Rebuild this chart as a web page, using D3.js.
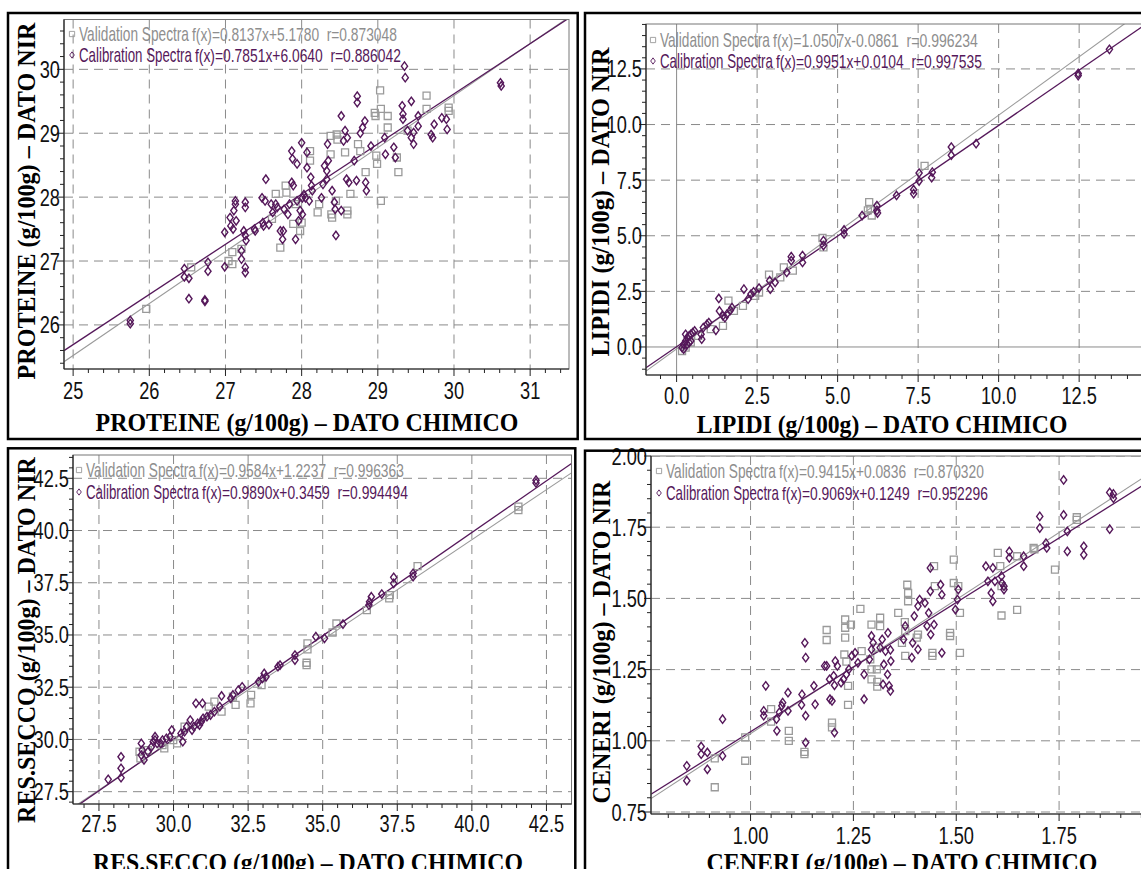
<!DOCTYPE html>
<html>
<head>
<meta charset="utf-8">
<script src="https://cdn.jsdelivr.net/npm/d3@7"></script>
<style>
  body { margin: 0; background: #fff; }
  svg { display: block; }
  .num { font-family: "Liberation Sans", Arial, sans-serif; }
  .ttl { font-family: "Liberation Serif", "Times New Roman", serif; font-weight: bold; }
</style>
</head>
<body>
<svg id="chart" width="1141" height="869"></svg>
<script>
/* ---------- data: PROTEINE ---------- */
const proteineCal = [
  [25.75,26.07],[25.75,26.02],[26.46,26.88],[26.46,26.75],[26.52,26.73],[26.52,26.41],[26.73,26.39],[26.73,26.37],
  [26.77,26.98],[26.77,26.84],[26.99,27.45],[26.99,26.91],[27.06,27.68],[27.07,27.55],[27.10,27.50],[27.11,27.79],
  [27.13,27.94],[27.13,27.89],[27.14,27.63],[27.21,27.16],[27.21,27.03],[27.24,27.47],[27.26,27.92],[27.26,27.84],
  [27.26,27.40],[27.26,26.90],[27.26,26.82],[27.27,27.32],[27.38,27.50],[27.39,27.47],[27.48,27.99],[27.49,27.60],
  [27.50,27.55],[27.52,27.94],[27.53,28.28],[27.57,27.57],[27.60,27.89],[27.62,27.76],[27.66,27.89],[27.68,27.84],
  [27.72,27.47],[27.75,27.34],[27.76,27.47],[27.77,27.81],[27.82,27.73],[27.84,27.89],[27.87,28.23],[27.87,28.72],
  [27.88,28.60],[27.89,28.18],[27.92,27.34],[27.94,28.52],[27.94,27.94],[27.96,27.63],[27.98,27.79],[28.00,28.85],
  [28.01,27.73],[28.01,27.99],[28.03,28.04],[28.05,27.99],[28.07,28.70],[28.07,28.46],[28.10,27.94],[28.12,28.31],
  [28.13,28.18],[28.14,28.10],[28.26,27.99],[28.28,28.20],[28.30,28.49],[28.33,28.41],[28.34,28.83],[28.35,28.57],
  [28.33,28.28],[28.40,28.10],[28.43,27.92],[28.44,27.81],[28.45,27.40],[28.52,29.27],[28.55,28.88],[28.57,29.04],
  [28.60,28.93],[28.59,28.28],[28.62,28.23],[28.52,27.79],[28.69,28.57],[28.72,28.26],[28.73,29.58],[28.73,29.48],
  [28.77,29.00],[28.80,29.09],[28.83,29.19],[28.84,28.23],[28.85,28.10],[28.91,28.80],[29.09,28.93],[29.10,28.67],
  [29.21,28.78],[29.23,28.62],[29.32,29.43],[29.33,29.30],[29.33,29.22],[29.35,30.05],[29.36,29.87],[29.39,29.04],
  [29.44,29.50],[29.44,28.93],[29.47,28.83],[29.47,29.01],[29.53,29.11],[29.53,29.27],[29.70,28.98],[29.72,28.93],
  [29.74,29.14],[29.84,29.24],[29.90,29.22],[29.91,29.06],[30.61,29.79],[30.62,29.74]
];
const proteineVal = [
  [25.96,26.25],[26.55,26.90],[27.04,27.00],[27.09,27.14],[27.09,26.95],[27.21,27.19],[27.61,27.66],[27.66,28.05],
  [27.72,27.21],[27.79,28.18],[27.80,28.07],[27.89,27.58],[27.92,27.89],[27.98,27.47],[28.00,27.60],[28.11,28.72],
  [28.11,28.57],[28.21,27.76],[28.23,27.89],[28.38,28.96],[28.38,28.67],[28.39,27.73],[28.40,27.68],[28.45,27.94],
  [28.46,28.98],[28.47,28.90],[28.57,28.70],[28.60,27.79],[28.60,27.73],[28.64,28.05],[28.74,28.83],[28.77,28.72],
  [28.84,28.39],[28.96,29.32],[28.97,29.27],[28.98,28.65],[28.99,28.52],[29.03,29.67],[29.04,29.38],[29.04,27.94],
  [29.13,29.27],[29.13,29.09],[29.25,28.62],[29.27,28.39],[29.39,29.04],[29.64,29.59],[29.64,29.38],[29.93,29.40],
  [29.93,29.35]
];
const proteineCalFit = [0.7851, 6.0640, 0.886042];
const proteineValFit = [0.8137, 5.1780, 0.873048];
const proteineXTicks = [25, 26, 27, 28, 29, 30, 31];
const proteineYTicks = [26, 27, 28, 29, 30];

/* ---------- data: LIPIDI ---------- */
const lipidiCal = [
  [13.44,13.38],[12.47,12.20],[12.47,12.30],[9.30,9.14],[8.53,8.99],[8.53,8.62],[7.94,7.86],[7.92,7.61],
  [7.53,7.82],[7.53,7.46],[7.36,7.07],[7.36,6.89],[6.83,6.81],[6.22,6.36],[6.22,6.14],[6.24,6.02],
  [5.76,5.91],[5.20,5.26],[5.20,5.08],[4.56,4.78],[4.56,4.56],[3.91,4.11],[3.91,3.80],[3.56,4.06],
  [3.56,3.88],[3.42,3.35],[3.06,2.90],[2.89,2.98],[2.91,2.60],[2.56,2.65],[2.39,2.48],[2.31,2.38],
  [2.22,2.15],[2.09,2.60],[1.31,2.18],[1.33,1.62],[1.44,1.40],[1.56,1.47],[1.67,1.65],[1.72,1.77],
  [1.50,1.32],[1.22,0.75],[1.00,1.10],[0.94,1.02],[0.83,0.87],[0.78,0.35],[0.76,0.57],[0.22,0.12],
  [0.28,0.27],[0.33,0.42],[0.39,0.50],[0.44,0.57],[0.50,0.65],[0.56,0.72],[0.33,0.12],[0.17,-0.03],
  [0.22,-0.10],[0.44,0.27],[0.28,0.57],[0.39,0.20]
];
const lipidiVal = [
  [7.70,8.14],[5.98,6.51],[6.02,6.21],[6.06,5.91],[5.94,6.14],[4.56,4.48],[4.53,4.90],[3.61,3.43],
  [3.33,3.58],[3.22,3.13],[2.87,3.25],[2.56,2.45],[2.44,2.30],[2.06,1.85],[1.78,1.62],[1.61,2.08],
  [1.44,0.95],[1.06,0.80],[0.67,0.50],[0.44,0.20],[0.17,-0.18],[0.28,-0.03]
];
const lipidiCalFit = [0.9951, 0.0104, 0.997535];
const lipidiValFit = [1.0507, -0.0861, 0.996234];
const lipidiXTicks = [0, 2.5, 5, 7.5, 10, 12.5];
const lipidiYTicks = [0, 2.5, 5, 7.5, 10, 12.5];

/* ---------- data: RES.SECCO ---------- */
const seccoCal = [
  [42.15,42.41],[42.15,42.28],[38.03,37.95],[38.03,37.79],[37.38,37.76],[37.38,37.47],[36.98,36.96],[36.63,36.83],
  [36.57,36.59],[36.55,36.43],[35.68,35.52],[35.06,34.84],[34.77,34.92],[34.07,34.04],[34.07,33.80],[33.57,33.56],
  [33.50,33.48],[33.10,33.00],[32.98,32.92],[32.85,32.76],[33.04,33.16],[32.30,32.52],[32.17,32.36],[31.99,32.13],
  [31.92,31.97],[31.61,32.08],[31.55,31.57],[31.37,31.33],[31.24,31.17],[31.12,31.09],[30.99,31.01],[30.93,30.85],
  [30.87,30.69],[30.81,30.77],[30.68,30.61],[30.62,30.45],[30.56,30.93],[30.97,31.73],[30.75,31.73],[30.44,30.61],
  [30.37,30.37],[30.25,30.29],[30.31,29.89],[29.94,30.45],[29.88,30.13],[29.76,30.05],[29.63,29.97],[29.57,29.81],
  [29.45,29.81],[29.38,29.97],[29.32,29.89],[29.38,30.13],[29.26,29.65],[29.14,29.41],[28.95,29.49],[29.01,29.02],
  [28.92,29.81],[28.92,29.25],[28.24,29.17],[28.24,28.17],[28.24,28.62],[27.81,28.09]
];
const seccoVal = [
  [41.56,41.14],[41.56,40.98],[38.18,38.30],[37.23,36.75],[37.25,36.91],[36.48,36.19],[35.46,35.55],[35.33,35.12],
  [34.49,34.60],[34.49,34.31],[34.46,33.67],[34.46,33.56],[32.95,32.60],[32.60,32.13],[32.58,31.73],[32.08,31.65],
  [31.99,32.05],[31.61,31.33],[31.37,31.81],[31.18,31.57],[30.37,30.61],[30.12,29.81],[29.99,29.97],[29.69,29.57],
  [29.63,29.73],[29.14,29.49],[28.89,29.09],[28.86,29.41]
];
const seccoCalFit = [0.9890, 0.3459, 0.994494];
const seccoValFit = [0.9584, 1.2237, 0.996363];
const seccoXTicks = [27.5, 30, 32.5, 35, 37.5, 40, 42.5];
const seccoYTicks = [27.5, 30, 32.5, 35, 37.5, 40, 42.5];

/* ---------- data: CENERI ---------- */
const ceneriCal = [
  [0.845,0.912],[0.845,0.860],[0.880,0.980],[0.880,0.953],[0.895,0.959],[0.895,0.900],[0.932,1.076],[0.932,0.947],
  [1.032,1.088],[1.032,1.105],[1.037,1.193],[1.063,1.076],[1.064,1.035],[1.070,1.100],[1.076,1.123],[1.078,1.134],
  [1.091,1.169],[1.091,1.105],[1.124,1.126],[1.125,1.163],[1.132,1.344],[1.134,1.292],[1.134,1.088],[1.134,0.994],
  [1.154,1.193],[1.157,1.128],[1.180,1.263],[1.185,1.263],[1.192,1.216],[1.193,1.146],[1.198,1.140],[1.202,1.228],
  [1.204,1.195],[1.206,1.280],[1.211,1.263],[1.204,1.029],[1.220,1.204],[1.226,1.216],[1.233,1.233],[1.239,1.251],
  [1.246,1.298],[1.254,1.309],[1.261,1.274],[1.276,1.146],[1.276,1.233],[1.289,1.286],[1.294,1.368],[1.294,1.321],
  [1.298,1.344],[1.315,1.327],[1.320,1.356],[1.322,1.198],[1.324,1.268],[1.328,1.315],[1.333,1.233],[1.334,1.379],
  [1.337,1.193],[1.340,1.175],[1.341,1.280],[1.340,1.319],[1.372,1.356],[1.376,1.403],[1.392,1.292],[1.394,1.344],
  [1.398,1.438],[1.407,1.321],[1.407,1.473],[1.411,1.496],[1.424,1.484],[1.429,1.403],[1.433,1.449],[1.437,1.525],
  [1.437,1.607],[1.438,1.373],[1.446,1.408],[1.462,1.548],[1.465,1.513],[1.465,1.309],[1.498,1.461],[1.503,1.496],
  [1.505,1.531],[1.572,1.613],[1.577,1.560],[1.585,1.519],[1.589,1.490],[1.589,1.607],[1.594,1.560],[1.610,1.578],
  [1.611,1.554],[1.616,1.543],[1.616,1.531],[1.629,1.665],[1.629,1.642],[1.664,1.648],[1.664,1.613],[1.703,1.788],
  [1.703,1.747],[1.718,1.694],[1.720,1.677],[1.761,1.916],[1.761,1.793],[1.770,1.735],[1.770,1.665],[1.810,1.683],
  [1.810,1.653],[1.873,1.872],[1.882,1.867],[1.882,1.852],[1.873,1.743]
];
const ceneriVal = [
  [0.913,0.837],[0.913,0.938],[0.987,0.930],[0.987,1.012],[1.050,1.111],[1.050,1.067],[1.093,1.035],[1.093,1.000],
  [1.131,0.961],[1.131,0.953],[1.185,1.389],[1.185,1.354],[1.198,1.064],[1.198,1.047],[1.230,1.426],[1.230,1.397],
  [1.230,1.362],[1.228,1.303],[1.233,1.278],[1.237,1.193],[1.237,1.126],[1.244,1.408],[1.267,1.463],[1.270,1.315],
  [1.294,1.408],[1.291,1.286],[1.294,1.251],[1.294,1.216],[1.305,1.327],[1.307,1.251],[1.308,1.207],[1.308,1.190],
  [1.315,1.432],[1.315,1.403],[1.359,1.449],[1.375,1.417],[1.376,1.385],[1.376,1.298],[1.368,1.344],[1.381,1.548],
  [1.383,1.519],[1.383,1.490],[1.404,1.362],[1.407,1.373],[1.442,1.309],[1.442,1.298],[1.448,1.543],[1.446,1.613],
  [1.485,1.368],[1.485,1.379],[1.494,1.636],[1.494,1.554],[1.509,1.449],[1.509,1.309],[1.505,1.543],[1.601,1.660],
  [1.607,1.613],[1.610,1.543],[1.610,1.440],[1.648,1.648],[1.648,1.460],[1.688,1.677],[1.690,1.672],[1.740,1.601],
  [1.793,1.785],[1.793,1.776]
];
const ceneriCalFit = [0.9069, 0.1249, 0.952296];
const ceneriValFit = [0.9415, 0.0836, 0.870320];
const ceneriXTicks = [1.00, 1.25, 1.50, 1.75];
const ceneriYTicks = [0.75, 1.00, 1.25, 1.50, 1.75, 2.00];

/* ---------- colours ---------- */
const CAL = '#55185a';
const VAL = '#9a9a9a';
const VAL_TXT = '#8e8e8e';
const GRID = '#8a8a8a';

/* ---------- panel layout ---------- */
const panels = [
  {
    name: 'PROTEINE', cal: proteineCal, val: proteineVal, calFit: proteineCalFit, valFit: proteineValFit,
    xTicks: proteineXTicks, yTicks: proteineYTicks, fmt: d3.format('d'), minor: 0.2,
    frame: [8, 13, 577.7, 439], plot: { l: 64, t: 19.5, r: 569, b: 369 },
    xDomain: [24.88, 31.51], yDomain: [25.31, 30.78],
    xLabelY: 399, xTitle: [307, 431, 423], yTitle: [35, 201, 357], legend: [72, 41, 62]
  },
  {
    name: 'LIPIDI', cal: lipidiCal, val: lipidiVal, calFit: lipidiCalFit, valFit: lipidiValFit,
    xTicks: lipidiXTicks, yTicks: lipidiYTicks, fmt: d3.format('.1f'), minor: 0.5, solidZero: true,
    frame: [585, 13, 1200, 439], plot: { l: 646, t: 24, r: 1150, b: 375 },
    xDomain: [-0.95, 14.70], yDomain: [-1.26, 14.52],
    xLabelY: 404, xTitle: [882, 433, 371], yTitle: [609, 202, 309], legend: [653, 47, 68]
  },
  {
    name: 'RES.SECCO', cal: seccoCal, val: seccoVal, calFit: seccoCalFit, valFit: seccoValFit,
    xTicks: seccoXTicks, yTicks: seccoYTicks, fmt: d3.format('.1f'), minor: 0.5,
    frame: [8, 448.3, 575.3, 900], plot: { l: 73, t: 455, r: 571.5, b: 804 },
    xDomain: [26.63, 43.34], yDomain: [26.91, 43.615],
    xLabelY: 832, xTitle: [308, 871, 430], yTitle: [35, 640, 366], legend: [79, 477, 499]
  },
  {
    name: 'CENERI', cal: ceneriCal, val: ceneriVal, calFit: ceneriCalFit, valFit: ceneriValFit,
    xTicks: ceneriXTicks, yTicks: ceneriYTicks, fmt: d3.format('.2f'), minor: 0.05,
    frame: [585, 450.7, 1200, 900], plot: { l: 651, t: 456, r: 1150, b: 814 },
    xDomain: [0.758, 1.971], yDomain: [0.743, 2.0],
    xLabelY: 844, xTitle: [902, 871, 391], yTitle: [610, 642, 323], legend: [659, 478, 500]
  }
];

const svg = d3.select('#chart');
const defs = svg.append('defs');

const diamond = 'M0,-4.2L3.1,0L0,4.2L-3.1,0Z';
const square = 'M-3.5,-3.5H3.5V3.5H-3.5Z';
const TICK_SX = 0.76;

function fitText(f) {
  const b = f[1];
  return `f(x)=${f[0].toFixed(4)}x${b < 0 ? '-' : '+'}${Math.abs(b).toFixed(4)}  r=${f[2].toFixed(6)}`;
}

function minorTicks(domain, step) {
  const a = Math.ceil(domain[0] / step - 1e-9);
  const b = Math.floor(domain[1] / step + 1e-9);
  return d3.range(a, b + 1).map(k => +(k * step).toFixed(6));
}

// squeeze a text horizontally so that it spans `w` pixels
function squeeze(sel, w, pre) {
  const natural = sel.node().getComputedTextLength();
  return pre + ` scale(${w / natural},1)`;
}

function drawPanel(p, i) {
  const x = d3.scaleLinear().domain(p.xDomain).range([p.plot.l, p.plot.r]);
  const y = d3.scaleLinear().domain(p.yDomain).range([p.plot.b, p.plot.t]);
  const g = svg.append('g');

  const clipId = 'clip' + i;
  defs.append('clipPath').attr('id', clipId)
    .append('rect')
    .attr('x', p.plot.l).attr('y', p.plot.t)
    .attr('width', p.plot.r - p.plot.l).attr('height', p.plot.b - p.plot.t);

  const inner = g.append('g').attr('clip-path', `url(#${clipId})`);

  /* grid */
  const dash = d => (p.solidZero && d === 0 ? null : '9,6');
  inner.selectAll('.gx').data(p.xTicks).enter().append('line')
    .attr('x1', d => x(d)).attr('x2', d => x(d))
    .attr('y1', p.plot.t).attr('y2', p.plot.b)
    .attr('stroke', GRID).attr('stroke-width', 1)
    .attr('stroke-dasharray', dash);
  inner.selectAll('.gy').data(p.yTicks).enter().append('line')
    .attr('x1', p.plot.l).attr('x2', p.plot.r)
    .attr('y1', d => y(d)).attr('y2', d => y(d))
    .attr('stroke', GRID).attr('stroke-width', 1)
    .attr('stroke-dasharray', dash);

  /* regression lines */
  const line = d3.line().x(d => x(d[0])).y(d => y(d[1]));
  [[p.valFit, VAL, 1.1], [p.calFit, CAL, 1.3]].forEach(([f, c, w]) => {
    const pts = p.xDomain.map(v => [v, f[0] * v + f[1]]);
    inner.append('path').attr('d', line(pts))
      .attr('fill', 'none').attr('stroke', c).attr('stroke-width', w);
  });

  /* points */
  inner.selectAll('.v').data(p.val).enter().append('path')
    .attr('d', square)
    .attr('transform', d => `translate(${x(d[0])},${y(d[1])})`)
    .attr('fill', 'none').attr('stroke', VAL).attr('stroke-width', 1.3);
  inner.selectAll('.c').data(p.cal).enter().append('path')
    .attr('d', diamond)
    .attr('transform', d => `translate(${x(d[0])},${y(d[1])})`)
    .attr('fill', 'none').attr('stroke', CAL).attr('stroke-width', 1.4);

  /* plot border + axes */
  g.append('rect')
    .attr('x', p.plot.l).attr('y', p.plot.t)
    .attr('width', p.plot.r - p.plot.l).attr('height', p.plot.b - p.plot.t)
    .attr('fill', 'none').attr('stroke', '#777').attr('stroke-width', 1);
  g.append('line').attr('x1', p.plot.l).attr('x2', p.plot.r).attr('y1', p.plot.b).attr('y2', p.plot.b)
    .attr('stroke', '#222').attr('stroke-width', 1.2);
  g.append('line').attr('x1', p.plot.l).attr('x2', p.plot.l).attr('y1', p.plot.t).attr('y2', p.plot.b)
    .attr('stroke', '#222').attr('stroke-width', 1.2);

  /* ticks */
  const xm = minorTicks(p.xDomain, p.minor);
  const ym = minorTicks(p.yDomain, p.minor);
  const isMajor = (ticks, d) => ticks.some(t => Math.abs(t - d) < 1e-6);
  g.selectAll('.tx').data(xm).enter().append('line')
    .attr('x1', d => x(d)).attr('x2', d => x(d))
    .attr('y1', p.plot.b).attr('y2', d => p.plot.b + (isMajor(p.xTicks, d) ? 7 : 4))
    .attr('stroke', '#222').attr('stroke-width', 1);
  g.selectAll('.ty').data(ym).enter().append('line')
    .attr('y1', d => y(d)).attr('y2', d => y(d))
    .attr('x1', p.plot.l).attr('x2', d => p.plot.l - (isMajor(p.yTicks, d) ? 7 : 4))
    .attr('stroke', '#222').attr('stroke-width', 1);

  /* tick labels */
  g.selectAll('.lx').data(p.xTicks).enter().append('text')
    .attr('class', 'num')
    .attr('transform', d => `translate(${x(d)},${p.xLabelY}) scale(${TICK_SX},1)`)
    .attr('text-anchor', 'middle')
    .attr('font-size', 24).attr('fill', '#111')
    .text(p.fmt);
  g.selectAll('.ly').data(p.yTicks).enter().append('text')
    .attr('class', 'num')
    .attr('transform', d => `translate(${p.plot.l - 4},${y(d) + 8.5}) scale(${TICK_SX},1)`)
    .attr('text-anchor', 'end')
    .attr('font-size', 24).attr('fill', '#111')
    .text(p.fmt);

  /* axis titles */
  const xt = g.append('text').attr('class', 'ttl')
    .attr('text-anchor', 'middle').attr('font-size', 26).attr('fill', '#000')
    .text(`${p.name} (g/100g) – DATO CHIMICO`);
  xt.attr('transform', squeeze(xt, p.xTitle[2], `translate(${p.xTitle[0]},${p.xTitle[1]})`));
  const yt = g.append('text').attr('class', 'ttl')
    .attr('text-anchor', 'middle').attr('font-size', 26).attr('fill', '#000')
    .text(`${p.name} (g/100g) – DATO NIR`);
  yt.attr('transform', squeeze(yt, p.yTitle[2], `translate(${p.yTitle[0]},${p.yTitle[1]}) rotate(-90)`));

  /* legend */
  const [lx, vy, cy] = p.legend;
  const rows = [
    { sym: square, col: VAL, txt: VAL_TXT, label: 'Validation Spectra', fit: p.valFit, yy: vy, nameW: 110, fitW: 205 },
    { sym: diamond, col: CAL, txt: CAL, label: 'Calibration Spectra', fit: p.calFit, yy: cy, nameW: 113, fitW: 206 }
  ];
  rows.forEach(r => {
    g.append('path').attr('d', r.sym)
      .attr('transform', `translate(${lx},${r.yy - 7}) scale(0.75)`)
      .attr('fill', 'none').attr('stroke', r.col).attr('stroke-width', 1.2);
    const nm = g.append('text').attr('class', 'num')
      .attr('font-size', 20).attr('fill', r.txt)
      .text(r.label);
    nm.attr('transform', squeeze(nm, r.nameW, `translate(${lx + 7},${r.yy})`));
    const ft = g.append('text').attr('class', 'num')
      .attr('font-size', 18).attr('fill', r.txt)
      .style('white-space', 'pre')
      .text(fitText(r.fit));
    ft.attr('transform', squeeze(ft, r.fitW, `translate(${lx + 10 + r.nameW},${r.yy})`));
  });

  /* outer frame */
  g.append('rect')
    .attr('x', p.frame[0]).attr('y', p.frame[1])
    .attr('width', p.frame[2] - p.frame[0]).attr('height', p.frame[3] - p.frame[1])
    .attr('fill', 'none').attr('stroke', '#000').attr('stroke-width', 2.5);
}

panels.forEach(drawPanel);
</script>
</body>
</html>
